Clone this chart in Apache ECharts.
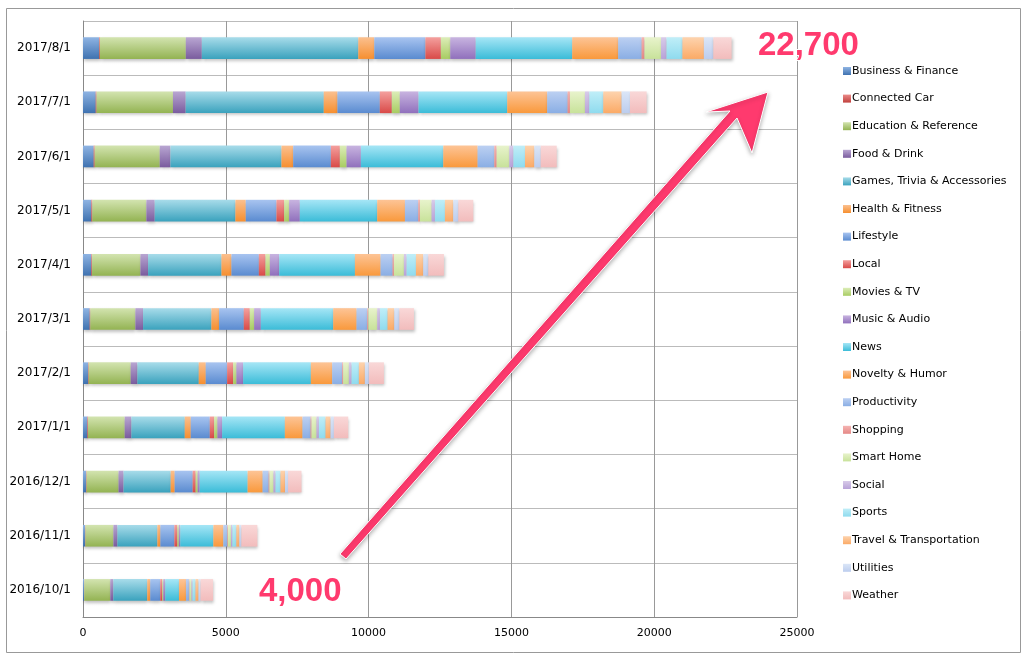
<!DOCTYPE html>
<html>
<head>
<meta charset="utf-8">
<script src="https://cdn.jsdelivr.net/npm/echarts@6/dist/echarts.min.js"></script>
<style>
html,body{margin:0;padding:0;background:#fff;}
#chart{width:1024px;height:653px;}
</style>
</head>
<body>
<div id="chart"></div>
<script>
const categories = ['2016/10/1','2016/11/1','2016/12/1','2017/1/1','2017/2/1','2017/3/1','2017/4/1','2017/5/1','2017/6/1','2017/7/1','2017/8/1'];
const xTicks = [0, 5000, 10000, 15000, 20000, 25000];

const businessFinance = [35, 70, 105, 152, 175, 234, 292, 292, 374, 445, 560];
const connectedCar = [10, 15, 20, 23, 23, 23, 25, 35, 35, 30, 30];
const educationReference = [910, 980, 1120, 1285, 1472, 1577, 1693, 1892, 2278, 2675, 3010];
const foodDrink = [105, 140, 175, 234, 234, 269, 269, 292, 374, 445, 560];
const gamesTrivia = [1190, 1400, 1650, 1869, 2149, 2394, 2570, 2826, 3889, 4835, 5480];
const healthFitness = [105, 105, 140, 210, 245, 269, 350, 362, 409, 480, 560];
const lifestyle = [350, 490, 630, 666, 748, 864, 958, 1075, 1320, 1483, 1790];
const local = [70, 105, 105, 152, 210, 210, 234, 269, 315, 420, 540];
const moviesTv = [35, 50, 70, 117, 117, 152, 152, 175, 234, 280, 330];
const musicAudio = [70, 50, 70, 164, 234, 234, 327, 374, 502, 655, 890];
const news = [480, 1160, 1680, 2196, 2371, 2535, 2651, 2710, 2885, 3107, 3380];
const noveltyHumor = [245, 350, 525, 619, 748, 818, 899, 970, 1203, 1400, 1610];
const productivity = [105, 140, 210, 280, 350, 374, 420, 467, 584, 713, 820];
const shopping = [20, 20, 30, 35, 35, 35, 47, 58, 82, 82, 100];
const smartHome = [70, 105, 140, 175, 199, 315, 350, 409, 444, 525, 580];
const social = [35, 50, 70, 82, 93, 93, 93, 117, 140, 152, 190];
const sports = [105, 140, 175, 234, 257, 269, 327, 350, 409, 490, 560];
const travelTransportation = [105, 105, 160, 175, 210, 234, 257, 292, 327, 642, 750];
const utilities = [70, 70, 105, 117, 140, 175, 175, 175, 222, 292, 330];
const weather = [440, 560, 470, 502, 526, 514, 549, 526, 561, 584, 640];

const seriesNames = ['Business & Finance','Connected Car','Education & Reference','Food & Drink','Games, Trivia & Accessories','Health & Fitness','Lifestyle','Local','Movies & TV','Music & Audio','News','Novelty & Humor','Productivity','Shopping','Smart Home','Social','Sports','Travel & Transportation','Utilities','Weather'];
const seriesData = [businessFinance, connectedCar, educationReference, foodDrink, gamesTrivia, healthFitness, lifestyle, local, moviesTv, musicAudio, news, noveltyHumor, productivity, shopping, smartHome, social, sports, travelTransportation, utilities, weather];
// [top, bottom] gradient colours
const palette = [
  ['#8fb4e3','#3f72b0'],
  ['#eb8a88','#c0403d'],
  ['#d3e4b0','#93b352'],
  ['#b9a6d2','#7a5c9e'],
  ['#a8dcea','#3aa2bd'],
  ['#fbc08f','#f68f30'],
  ['#a8c4f0','#5a8bd0'],
  ['#f4a09e','#d94a48'],
  ['#dcedb8','#a8cc62'],
  ['#c8b4e0','#9070bc'],
  ['#a6e6f6','#3bbcd8'],
  ['#fdc496','#f9993c'],
  ['#bcd0f2','#8aaee4'],
  ['#f5b4b2','#e58886'],
  ['#e8f3cc','#c8e29a'],
  ['#d8cbe9','#b8a2d8'],
  ['#c0eef8','#8fdbee'],
  ['#fdd3ae','#fbaa66'],
  ['#dbe6f7','#bccdee'],
  ['#f9d8d8','#f2bcbc']
];

const chart = echarts.init(document.getElementById('chart'));
const series = seriesNames.map((name, i) => ({
  name: name,
  type: 'bar',
  stack: 'total',
  barWidth: '40%',
  data: seriesData[i],
  itemStyle: {
    color: new echarts.graphic.LinearGradient(0, 0, 0, 1, [
      {offset: 0, color: palette[i][0]},
      {offset: 1, color: palette[i][1]}
    ]),
    shadowColor: 'rgba(0,0,0,0.25)',
    shadowBlur: 3,
    shadowOffsetX: 1,
    shadowOffsetY: 2
  },
  emphasis: {disabled: true}
}));

chart.setOption({
  animation: false,
  backgroundColor: '#ffffff',
  grid: {left: 83, right: 227, top: 21, bottom: 36, containLabel: false},
  xAxis: {
    type: 'value',
    min: xTicks[0],
    max: xTicks[xTicks.length - 1],
    interval: 5000,
    axisLine: {show: true, lineStyle: {color: '#888'}},
    axisTick: {show: false},
    splitLine: {show: true, lineStyle: {color: '#999', width: 1}},
    axisLabel: {color: '#000', fontFamily: 'DejaVu Sans', fontSize: 11, margin: 11, formatter: v => String(v)}
  },
  yAxis: {
    type: 'category',
    data: categories,
    axisLine: {show: true, lineStyle: {color: '#888'}},
    axisTick: {show: false},
    splitLine: {show: true, lineStyle: {color: '#bbb'}},
    axisLabel: {color: '#000', fontFamily: 'DejaVu Sans', fontSize: 12, margin: 12}
  },
  legend: {
    orient: 'vertical',
    left: 838,
    top: 59,
    itemWidth: 8,
    itemHeight: 8,
    itemGap: 13.6,
    icon: 'rect',
    selectedMode: false,
    data: seriesNames,
    textStyle: {color: '#000', fontFamily: 'DejaVu Sans', fontSize: 11, lineHeight: 14, padding: [0, 0, 0, -4]}
  },
  graphic: [
    {type: 'rect', left: 4, top: 6, shape: {width: 1014, height: 644}, style: {fill: 'none', stroke: '#999', lineWidth: 1}, silent: true},
    {type: 'polygon', silent: true, z: 100,
      shape: {points: [[340,554],[346,559],[737,118],[752,153],[768,92],[706,112],[730,111]]},
      style: {fill: '#ff3a6e', stroke: '#ffffff', lineWidth: 1, shadowColor: 'rgba(0,0,0,0.3)', shadowBlur: 4, shadowOffsetY: 2}},
    {type: 'text', left: 757, top: 28, z: 101, silent: true,
      style: {text: '22,700', fill: '#ff3a6e', font: 'bold 33px "Liberation Sans"', stroke: '#fff', lineWidth: 2}},
    {type: 'text', left: 258, top: 574, z: 101, silent: true,
      style: {text: '4,000', fill: '#ff3a6e', font: 'bold 33px "Liberation Sans"', stroke: '#fff', lineWidth: 2}}
  ],
  series: series
});
</script>
</body>
</html>
